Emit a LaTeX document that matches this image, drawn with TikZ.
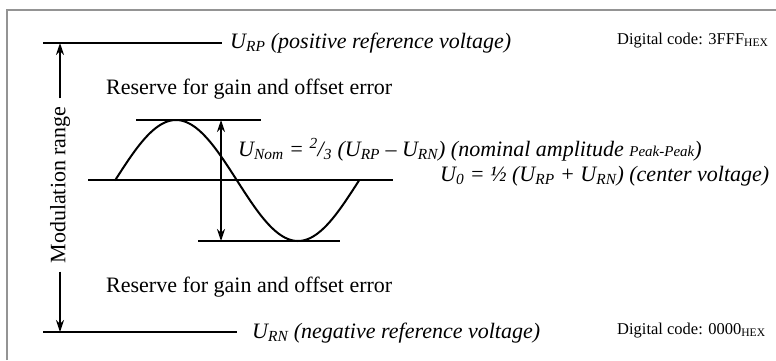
\documentclass[tikz,border=0pt]{standalone}
\usepackage{fontspec}
\setmainfont{Liberation Serif}
\usetikzlibrary{arrows.meta}

\newcommand{\volt}[2]{\textit{#1}\textsubscript{\textit{#2}}}

\begin{document}
\begin{tikzpicture}[
  x=1pt, y=-1pt,
  >={Stealth[length=12pt,width=8pt,inset=4pt]},
  every node/.style={font=\fontsize{22}{26}\selectfont, inner sep=0pt},
  reflabel/.style={anchor=base west, font=\fontsize{22}{26}\selectfont\itshape},
  codelabel/.style={anchor=base west, font=\fontsize{16.5}{19}\selectfont},
  textlabel/.style={anchor=base west},
  refline/.style={draw=black, line width=2.2pt},
  guideline/.style={draw=black, line width=1.1pt},
  wave/.style={draw=black, line width=2pt},
  span/.style={->, draw=black, line width=1.3pt},
  ampspan/.style={<->, draw=black, line width=1.3pt},
  frame/.style={draw=black!42, line width=2pt}
]
  \useasboundingbox (0,0) rectangle (776,360);

  % frame
  \coordinate (frameBL) at (7,360);
  \coordinate (frameTL) at (7,10);
  \coordinate (frameTR) at (776,10);
  \draw[frame] (frameBL) -- (frameTL) -- (frameTR);

  % reference levels
  \coordinate (rpL) at (43,43);
  \coordinate (rpR) at (222,43);
  \draw[refline] (rpL) -- (rpR);
  \node[reflabel] (rplabel) at (230,48) {\volt{U}{RP} (positive reference voltage)};
  \node[codelabel] (rpcode) at (617,44) {Digital code: 3FFF\textsubscript{HEX}};

  \coordinate (rnL) at (43,332);
  \coordinate (rnR) at (237,332);
  \draw[refline] (rnL) -- (rnR);
  \node[reflabel] (rnlabel) at (252,338) {\volt{U}{RN} (negative reference voltage)};
  \node[codelabel] (rncode) at (617,334) {Digital code: 0000\textsubscript{HEX}};

  % modulation range
  \node[rotate=90, inner xsep=8pt] (modlabel) at (60,185) {Modulation range};
  \coordinate (modtop) at (60,43);
  \coordinate (modbot) at (60,332);
  \draw[span] (modlabel.east) -- (modtop);
  \draw[span] (modlabel.west) -- (modbot);

  \node[textlabel] (resup) at (106,94) {Reserve for gain and offset error};
  \node[textlabel] (resdown) at (106,292) {Reserve for gain and offset error};

  % signal
  \coordinate (topL) at (136,120);
  \coordinate (topR) at (261,120);
  \coordinate (midL) at (88,180);
  \coordinate (midR) at (393,180);
  \coordinate (botL) at (198,241);
  \coordinate (botR) at (340,241);
  \draw[guideline] (topL) -- (topR);
  \draw[guideline] (midL) -- (midR);
  \draw[guideline] (botL) -- (botR);
  \draw[wave] plot[domain=115:359, samples=120, smooth] (\x, {180.5-60.5*sin((\x-115)/244*360)});

  \coordinate (ampTop) at (221,120);
  \coordinate (ampBot) at (221,241);
  \draw[ampspan] (ampTop) -- (ampBot);

  \node[reflabel] (nomlabel) at (238,156) {\volt{U}{Nom} = \textsuperscript{2}/\textsubscript{3} (\volt{U}{RP} – \volt{U}{RN}) (nominal amplitude {\fontsize{15}{18}\selectfont Peak-Peak})};
  \node[reflabel] (centerlabel) at (440,181) {\volt{U}{0} = ½ (\volt{U}{RP} + \volt{U}{RN}) (center voltage)};
\end{tikzpicture}
\end{document}
